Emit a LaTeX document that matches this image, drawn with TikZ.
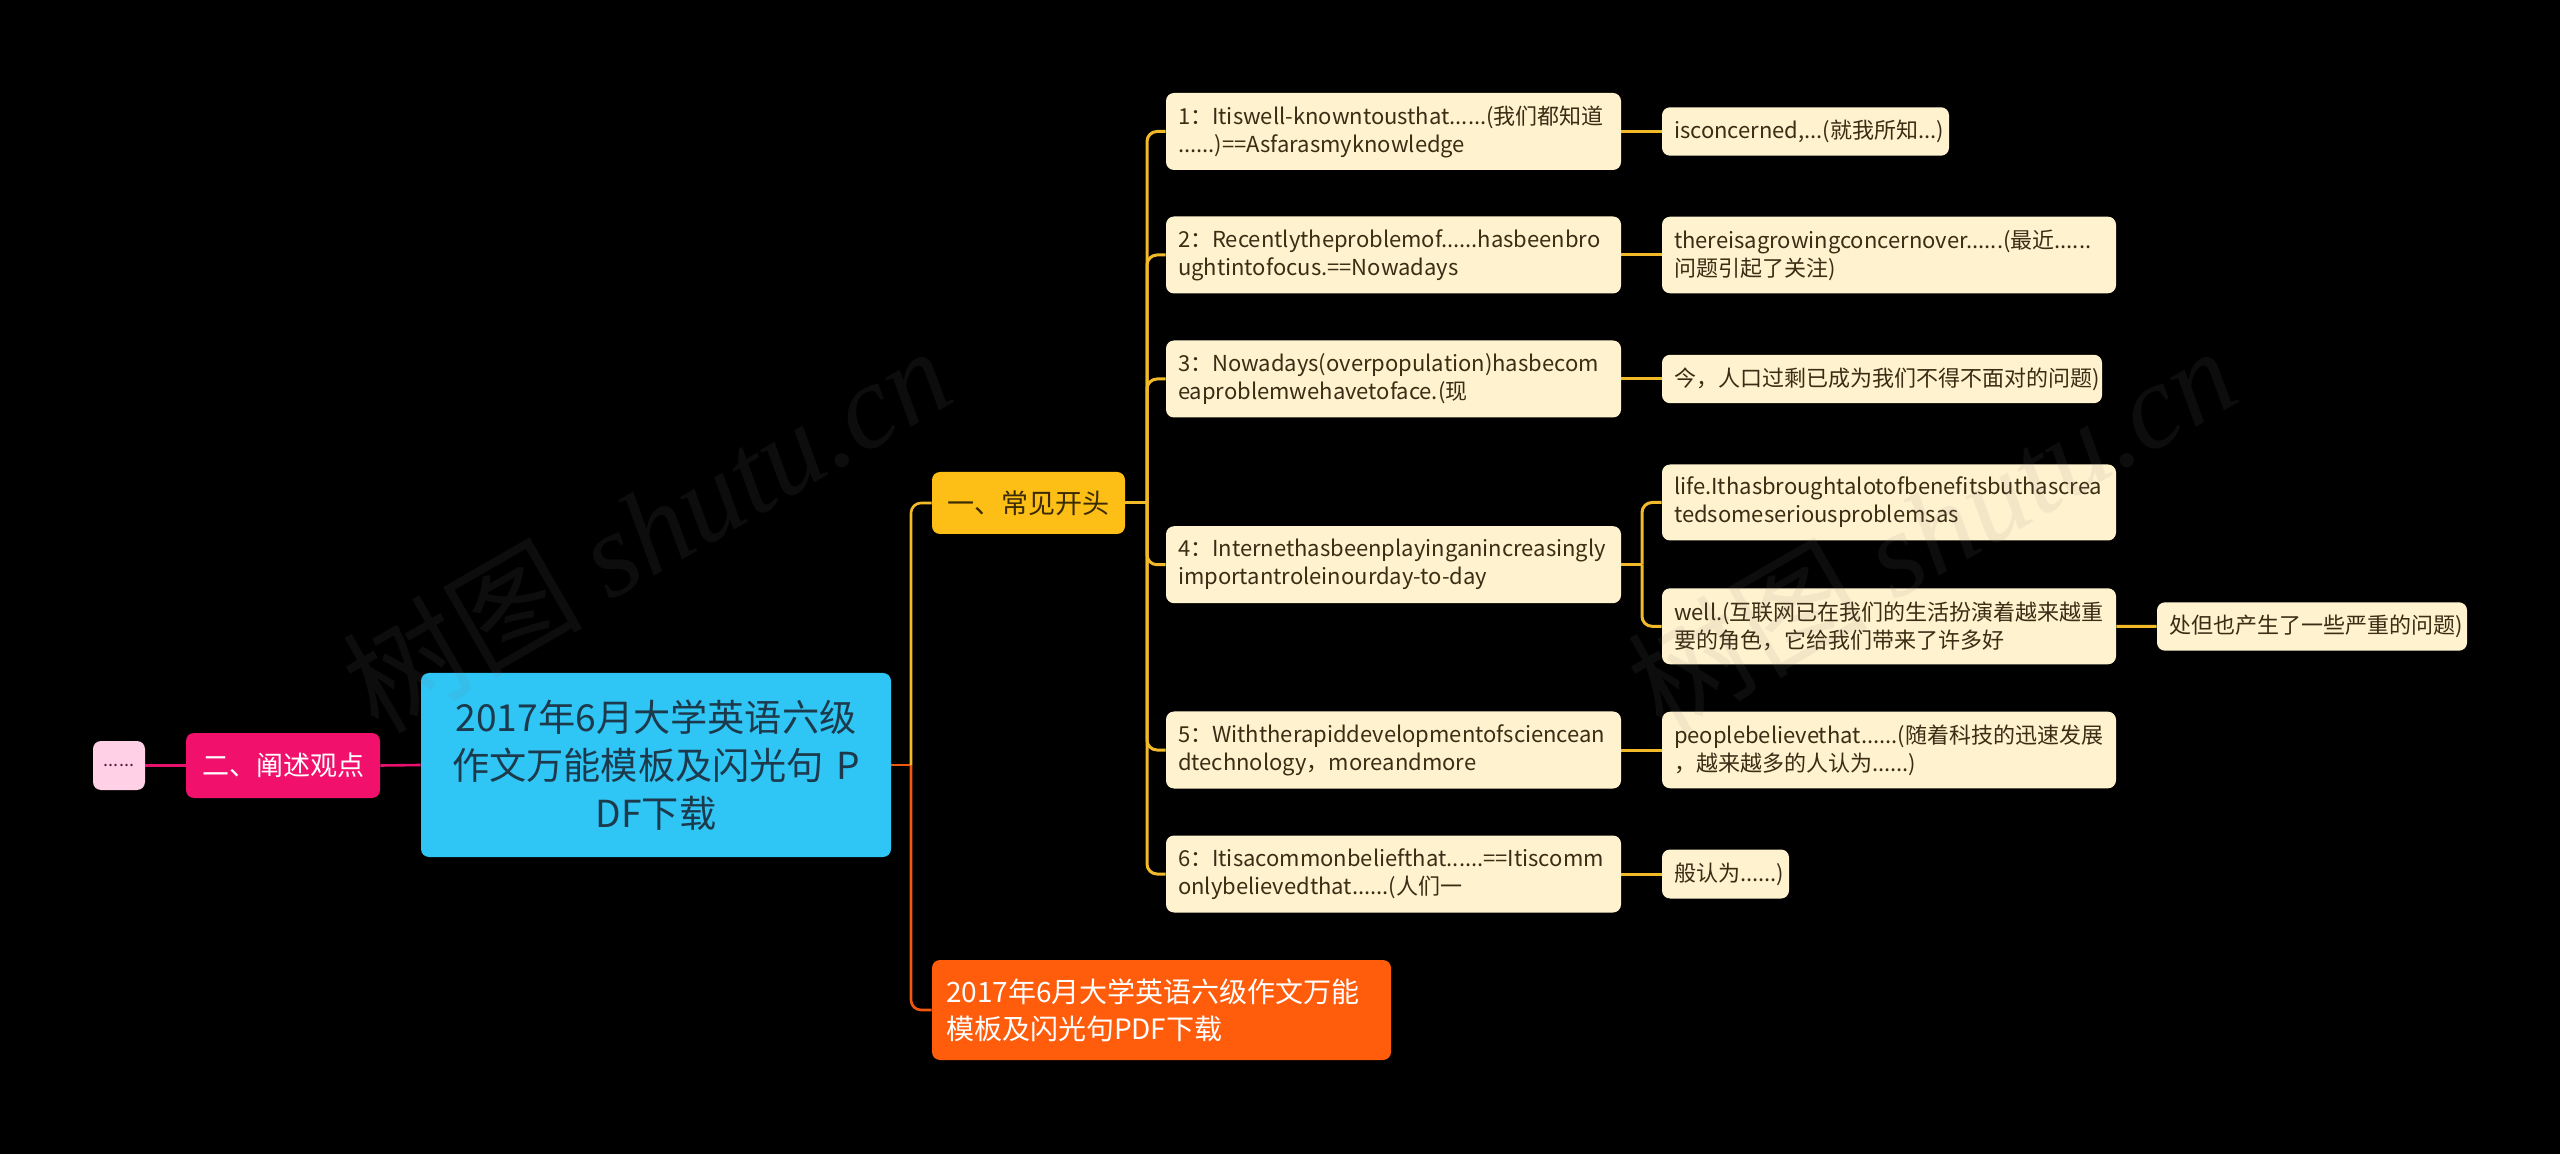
\documentclass[tikz,border=0pt]{standalone}
\usepackage{fontspec}
\setmainfont{Noto Sans CJK SC}
\newfontfamily\wmfont{Liberation Serif}
\usetikzlibrary{calc}
\definecolor{leafc}{HTML}{FFF2CF}
\definecolor{leaftext}{HTML}{3A2D14}
\definecolor{yline}{HTML}{F2B928}
\definecolor{rootc}{HTML}{2FC5F5}
\definecolor{roottext}{HTML}{1D3A4C}
\definecolor{yellowc}{HTML}{FDBF16}
\definecolor{yellowtext}{HTML}{3B2B05}
\definecolor{magc}{HTML}{F2106D}
\definecolor{pinkc}{HTML}{FFD0E6}
\definecolor{pinktext}{HTML}{5A1A3A}
\definecolor{pline}{HTML}{E8126E}
\definecolor{orangec}{HTML}{FF5C0B}
\definecolor{oline}{HTML}{F0570F}
\tikzset{
  box/.style={rounded corners=4pt, inner ysep=0pt, anchor=center},
  leaf/.style={box, fill=leafc, text=leaftext, align=left, inner xsep=6pt,
    font=\fontsize{11pt}{14pt}\selectfont},
  ylink/.style={draw=yline, line width=1.5pt},
  olink/.style={draw=oline, line width=1.3pt},
  plink/.style={draw=pline, line width=1.3pt},
  wm/.style={text=gray, opacity=0.1, rotate=30}
}
\begin{document}
\begin{tikzpicture}[x=0.5pt,y=-0.5pt]
\fill[black] (0,0) rectangle (2560,1154);
\useasboundingbox (0,0) rectangle (2560,1154);

% left side
\node[box, fill=pinkc, text=pinktext, minimum width=26pt, minimum height=24.5pt,
  inner xsep=2pt, font=\fontsize{9pt}{11pt}\selectfont] (dots) at (119,765.5) {......};
\node[box, fill=magc, text=white, minimum width=97pt, minimum height=32.5pt,
  font=\fontsize{13.5pt}{16pt}\selectfont] (mag) at (283,765.5) {二、阐述观点};

% root
\node[box, fill=rootc, text=roottext, minimum width=235pt, minimum height=92pt,
  align=center, text width=228pt, font=\fontsize{18.6pt}{24pt}\selectfont]
  (root) at (656,765) {2017年6月大学英语六级\\作文万能模板及闪光句 P\\DF下载};

% branches
\node[box, fill=yellowc, text=yellowtext, minimum width=96.5pt, minimum height=31pt,
  font=\fontsize{13.5pt}{16pt}\selectfont] (yel) at (1028.5,503) {一、常见开头};
\node[box, fill=orangec, text=white, minimum width=229.5pt, minimum height=50pt,
  align=left, inner xsep=7pt, text width=215.5pt, font=\fontsize{14pt}{18.5pt}\selectfont]
  (ora) at (1161.5,1010) {2017年6月大学英语六级作文万能\\模板及闪光句PDF下载};

% leaf column 1
\tikzset{c1/.style={leaf, minimum width=227.5pt, minimum height=38.5pt, text width=215.5pt}}
\node[c1] (l1) at (1393.5,131.5) {1：Itiswell-knowntousthat......(我们都知道\\......)==Asfarasmyknowledge};
\node[c1] (l2) at (1393.5,255) {2：Recentlytheproblemof......hasbeenbro\\ughtintofocus.==Nowadays};
\node[c1] (l3) at (1393.5,379) {3：Nowadays(overpopulation)hasbecom\\eaproblemwehavetoface.(现};
\node[c1] (l4) at (1393.5,564.7) {4：Internethasbeenplayinganincreasingly\\importantroleinourday-to-day};
\node[c1] (l5) at (1393.5,750) {5：Withtherapiddevelopmentofsciencean\\dtechnology，moreandmore};
\node[c1] (l6) at (1393.5,874) {6：Itisacommonbeliefthat......==Itiscomm\\onlybelievedthat......(人们一};

% leaf column 2
\node[leaf, minimum width=143.5pt, minimum height=24.2pt, text width=131.5pt] (a1) at (1805.5,131.5) {isconcerned,...(就我所知...)};
\node[leaf, minimum width=227pt, minimum height=38.3pt, text width=215pt] (a2) at (1889,255) {thereisagrowingconcernover......(最近......\\问题引起了关注)};
\node[leaf, minimum width=220pt, minimum height=24.2pt, text width=208pt] (a3) at (1882,379) {今，人口过剩已成为我们不得不面对的问题)};
\node[leaf, minimum width=227pt, minimum height=38pt, text width=215pt] (a4) at (1889,502.5) {life.Ithasbroughtalotofbenefitsbuthascrea\\tedsomeseriousproblemsas};
\node[leaf, minimum width=227pt, minimum height=38pt, text width=215pt] (b4) at (1889,626.3) {well.(互联网已在我们的生活扮演着越来越重\\要的角色，它给我们带来了许多好};
\node[leaf, minimum width=155pt, minimum height=24.2pt, text width=143pt] (c4) at (2312,626.5) {处但也产生了一些严重的问题)};
\node[leaf, minimum width=227pt, minimum height=38.3pt, text width=215pt] (a5) at (1889,750) {peoplebelievethat......(随着科技的迅速发展\\，越来越多的人认为......)};
\node[leaf, minimum width=63.5pt, minimum height=24.5pt, text width=51.5pt] (a6) at (1725.5,874) {般认为......)};

% connectors
\draw[plink] (root.west) -- (mag.east);
\draw[plink] (mag.west) -- (dots.east);

\coordinate (rs) at (911,765);
\draw[olink] (root.east) -- (rs);
\draw[olink, rounded corners=5pt] (rs) |- (ora.west);
\draw[ylink, line width=1.3pt, rounded corners=5pt] (rs) |- (yel.west);

\coordinate (ys) at (1147,503);
\draw[ylink] (yel.east) -- (ys);
\foreach \n in {l1,l2,l3,l4,l5,l6}
  \draw[ylink, rounded corners=5pt] (ys) |- (\n.west);

\draw[ylink] (l1.east) -- (a1.west);
\draw[ylink] (l2.east) -- (a2.west);
\draw[ylink] (l3.east) -- (a3.west);
\draw[ylink] (l5.east) -- (a5.west);
\draw[ylink] (l6.east) -- (a6.west);
\coordinate (fs) at (1642,564.7);
\draw[ylink] (l4.east) -- (fs);
\draw[ylink, rounded corners=5pt] (fs) |- (a4.west);
\draw[ylink, rounded corners=5pt] (fs) |- (b4.west);
\draw[ylink] (b4.east) -- (c4.west);

% watermarks
\node[wm, font=\fontsize{60pt}{60pt}\selectfont] (wm1) at (646,528) {树图 {\wmfont\itshape shutu.cn}};
\node[wm, font=\fontsize{60pt}{60pt}\selectfont] (wm2) at (1931,528) {树图 {\wmfont\itshape shutu.cn}};
\end{tikzpicture}
\end{document}
